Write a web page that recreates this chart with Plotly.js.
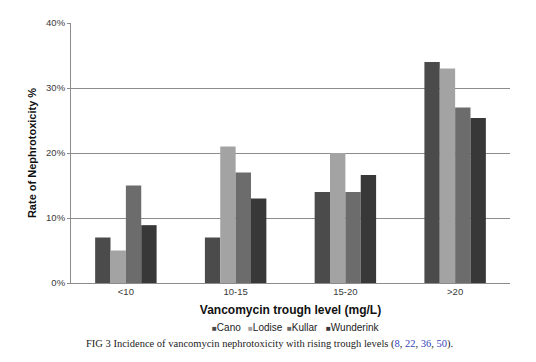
<!DOCTYPE html>
<html>
<head>
<meta charset="utf-8">
<script src="https://cdn.plot.ly/plotly-3.0.1.min.js"></script>
<style>html,body{margin:0;padding:0;background:#fff;}#chart{width:536px;height:362px;}</style>
</head>
<body>
<div id="chart"></div>
<script>
const categories = ["<10", "10-15", "15-20", ">20"];
const seriesNames = ["Cano", "Lodise", "Kullar", "Wunderink"];
const cano = [0.07, 0.07, 0.14, 0.34];
const lodise = [0.05, 0.21, 0.20, 0.33];
const kullar = [0.15, 0.17, 0.14, 0.27];
const wunderink = [0.089, 0.13, 0.166, 0.254];
const yTicks = [0, 0.1, 0.2, 0.3, 0.4];
const captionLabel = "FIG 3";
const captionText = " Incidence of vancomycin nephrotoxicity with rising trough levels (";
const captionRefs = ["8", "22", "36", "50"];

const colors = ["#4b4b4b", "#a3a3a3", "#6c6c6c", "#383838"];
const values = [cano, lodise, kullar, wunderink];
const legendX = [0.316, 0.398, 0.488, 0.577];

const traces = values.map((v, i) => ({
  type: "bar", x: categories, y: v, name: seriesNames[i],
  marker: {color: colors[i], line: {width: 0}}, showlegend: false, hoverinfo: "none"
}));

const legendAnnotations = seriesNames.map((n, i) => ({
  xref: "paper", yref: "paper", x: legendX[i], y: -0.173, xanchor: "left", yanchor: "middle",
  showarrow: false, font: {size: 10, color: "#222"},
  text: `<span style="color:${colors[i]};font-size:8px">■</span>${n}`
}));
const captionHtml = captionLabel + captionText +
  captionRefs.map(r => `<span style="color:#3344bb">${r}</span>`).join(", ") + ").";

const layout = {
  width: 536, height: 362,
  margin: {l: 71, r: 26, t: 23, b: 79},
  paper_bgcolor: "#fff", plot_bgcolor: "#fff",
  barmode: "group", bargap: 0.44, bargroupgap: 0,
  font: {family: "Liberation Sans, Arial, sans-serif", size: 9.5, color: "#3a3a3a"},
  xaxis: {
    type: "category", showgrid: false, showline: true, linecolor: "#8c8c8c", linewidth: 1,
    ticks: "", ticklen: 0, tickfont: {size: 9.5, color: "#3a3a3a"},
    title: {text: "<b>Vancomycin trough level (mg/L)</b>", font: {size: 12, color: "#111"}, standoff: 9}
  },
  yaxis: {
    range: [0, 0.4], tickvals: yTicks, tickformat: ".0%",
    showgrid: true, gridcolor: "#8c8c8c", gridwidth: 1,
    showline: true, linecolor: "#8c8c8c", linewidth: 1,
    ticks: "outside", ticklen: 3, tickcolor: "#8c8c8c", zeroline: false,
    tickfont: {size: 9.5, color: "#3a3a3a"},
    title: {text: "<b>Rate of Nephrotoxicity %</b>", font: {size: 11, color: "#111"}, standoff: 7}
  },
  annotations: legendAnnotations.concat([
    {xref: "paper", yref: "paper", x: 0.453, y: -0.235, xanchor: "center", yanchor: "middle",
     showarrow: false, text: captionHtml,
     font: {family: "Liberation Serif, Times New Roman, serif", size: 10.5, color: "#222"}}
  ])
};

Plotly.newPlot("chart", traces, layout, {displayModeBar: false, staticPlot: true});
</script>
</body>
</html>
